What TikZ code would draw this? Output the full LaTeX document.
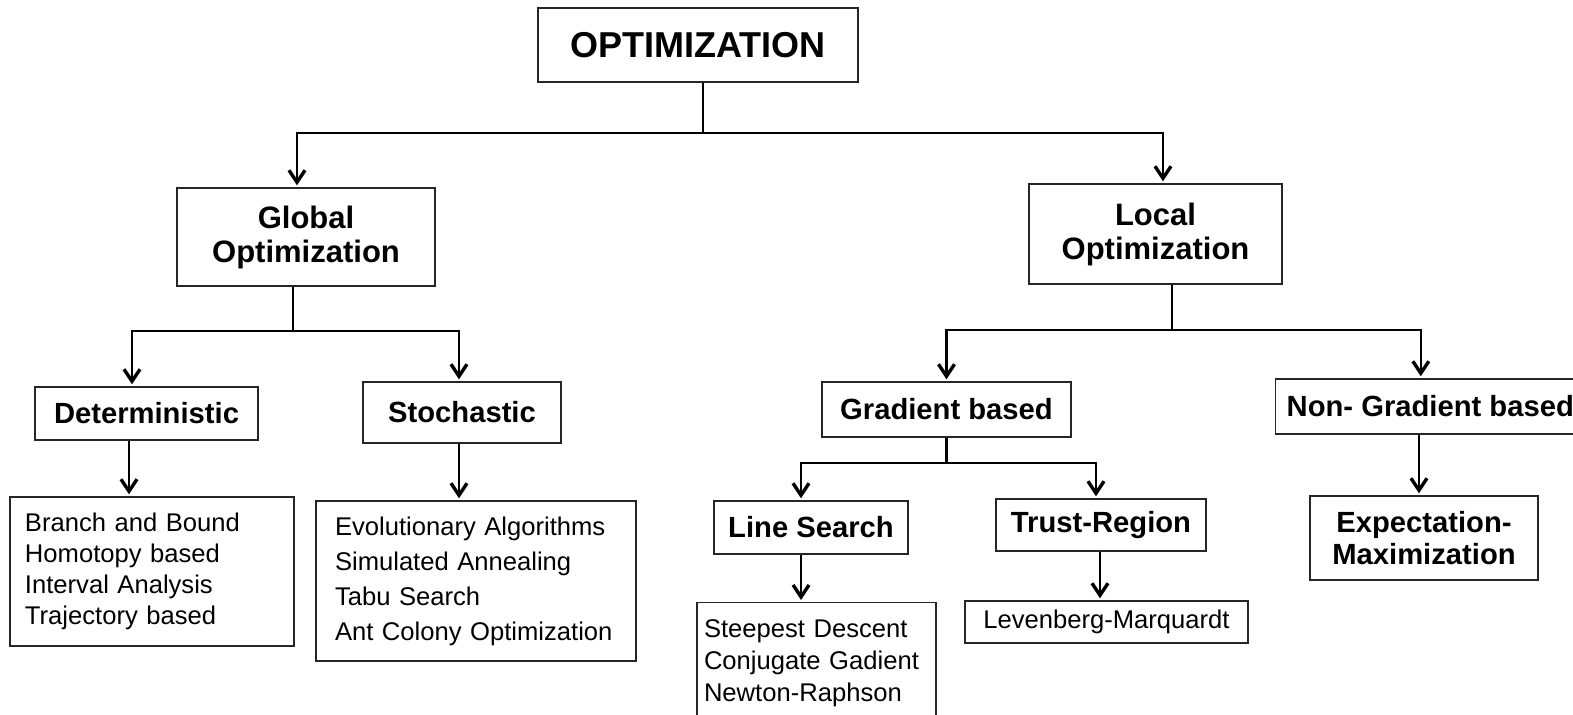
\documentclass[tikz,border=0pt]{standalone}
\usepackage{fontspec}
\setmainfont{Liberation Sans}
\usetikzlibrary{arrows.meta}

\begin{document}
\begin{tikzpicture}[x=0.5pt, y=-0.5pt,
  box/.style={draw=black!85, line width=0.7pt, inner sep=0pt, align=center},
  topbox/.style={box, font=\bfseries\fontsize{18}{20}\selectfont},
  mainbox/.style={box, font=\bfseries\fontsize{15.5}{17}\selectfont},
  subbox/.style={box, font=\bfseries\fontsize{14.6}{16}\selectfont},
  listbox/.style={draw=black!85, line width=0.7pt, inner ysep=0pt, align=left, font=\fontsize{12.8}{#1}\selectfont},
  conn/.style={line width=1.2pt},
  arr/.style={conn, -{Straight Barb[length=6pt,width=8pt,line width=1.7pt]}, shorten >=1pt}]
  \path[fill=white, use as bounding box] (0,0) rectangle (1573,715);

  % top level
  \node[topbox, minimum width=160pt, minimum height=37pt] (opt) at (698,45) {OPTIMIZATION};
  \node[mainbox, minimum width=129pt, minimum height=49pt] (global) at (306,237) {Global\\Optimization};
  \node[mainbox, minimum width=126.5pt, minimum height=50pt] (local) at (1155.5,234) {Local\\Optimization};

  % second level
  \node[subbox, minimum width=111.5pt, minimum height=26.5pt] (determ) at (146.5,413.5) {Deterministic};
  \node[subbox, minimum width=99pt, minimum height=30.5pt] (stoch) at (462,412.5) {Stochastic};
  \node[subbox, minimum width=124.5pt, minimum height=27.5pt] (grad) at (946.5,409.5) {Gradient based};
  \node[subbox, anchor=west, inner xsep=5.5pt, minimum height=27.5pt] (nongrad) at (1275,406.5) {Non- Gradient based};

  % third level
  \node[subbox, minimum width=97pt, minimum height=26.5pt] (lsearch) at (811,527.5) {Line Search};
  \node[subbox, minimum width=105pt, minimum height=26pt] (tregion) at (1101,525) {Trust-Region};
  \node[subbox, minimum width=114pt, minimum height=42pt] (expmax) at (1424,538) {Expectation-\\Maximization};

  % methods
  \node[listbox=15.5, text width=127pt, inner xsep=7.5pt, minimum height=74.5pt] (bnb) at (152,571.5)
    {Branch and Bound\\Homotopy based\\Interval Analysis\\Trajectory based};
  \node[listbox=17.5, text width=141pt, inner xsep=9.5pt, minimum height=80pt] (evol) at (476,581)
    {Evolutionary Algorithms\\Simulated Annealing\\Tabu Search\\Ant Colony Optimization};
  \node[listbox=16, text width=112.5pt, inner xsep=3.5pt, minimum height=61pt, anchor=north] (steep) at (816.5,602)
    {Steepest Descent\\Conjugate Gadient\\Newton-Raphson};
  \node[box, font=\fontsize{12.8}{15}\selectfont, minimum width=141.5pt, minimum height=21pt] (levmar) at (1106.5,622) {Levenberg-Marquardt};

  % junctions
  \coordinate (topbar) at (703,133);
  \coordinate (gbar) at (293,331);
  \coordinate (lbar) at (1172,330);
  \coordinate (gradbar) at (946.5,463);
  \coordinate (detout) at ([xshift=-8.75pt]determ.south);
  \coordinate (stout) at ([xshift=-1.5pt]stoch.south);
  \coordinate (lsout) at ([xshift=-5pt]lsearch.south);
  \coordinate (trout) at ([xshift=-0.5pt]tregion.south);
  \coordinate (ngout) at ([xshift=-2.5pt]expmax.north);

  % tree
  \draw[conn] ([xshift=2.5pt]opt.south) -- (topbar);
  \draw[arr] (topbar) -| ([xshift=-4.5pt]global.north);
  \draw[arr] (topbar) -| ([xshift=3.75pt]local.north);

  \draw[conn] ([xshift=-6.5pt]global.south) -- (gbar);
  \draw[arr] (gbar) -| ([xshift=-7.25pt]determ.north);
  \draw[arr] (gbar) -| ([xshift=-1.5pt]stoch.north);

  \draw[conn] ([xshift=8.25pt]local.south) -- (lbar);
  \draw[arr] (lbar) -| (grad.north);
  \draw[arr] (lbar) -| ([xshift=-4.75pt]nongrad.north);

  \draw[conn] (grad.south) -- (gradbar);
  \draw[arr] (gradbar) -| ([xshift=-5pt]lsearch.north);
  \draw[arr] (gradbar) -| ([xshift=-2.5pt]tregion.north);

  \draw[arr] (detout) -- (detout |- bnb.north);
  \draw[arr] (stout) -- (stout |- evol.north);
  \draw[arr] (lsout) -- (lsout |- steep.north);
  \draw[arr] (trout) -- (trout |- levmar.north);
  \draw[arr] (ngout |- nongrad.south) -- (ngout);
\end{tikzpicture}
\end{document}
